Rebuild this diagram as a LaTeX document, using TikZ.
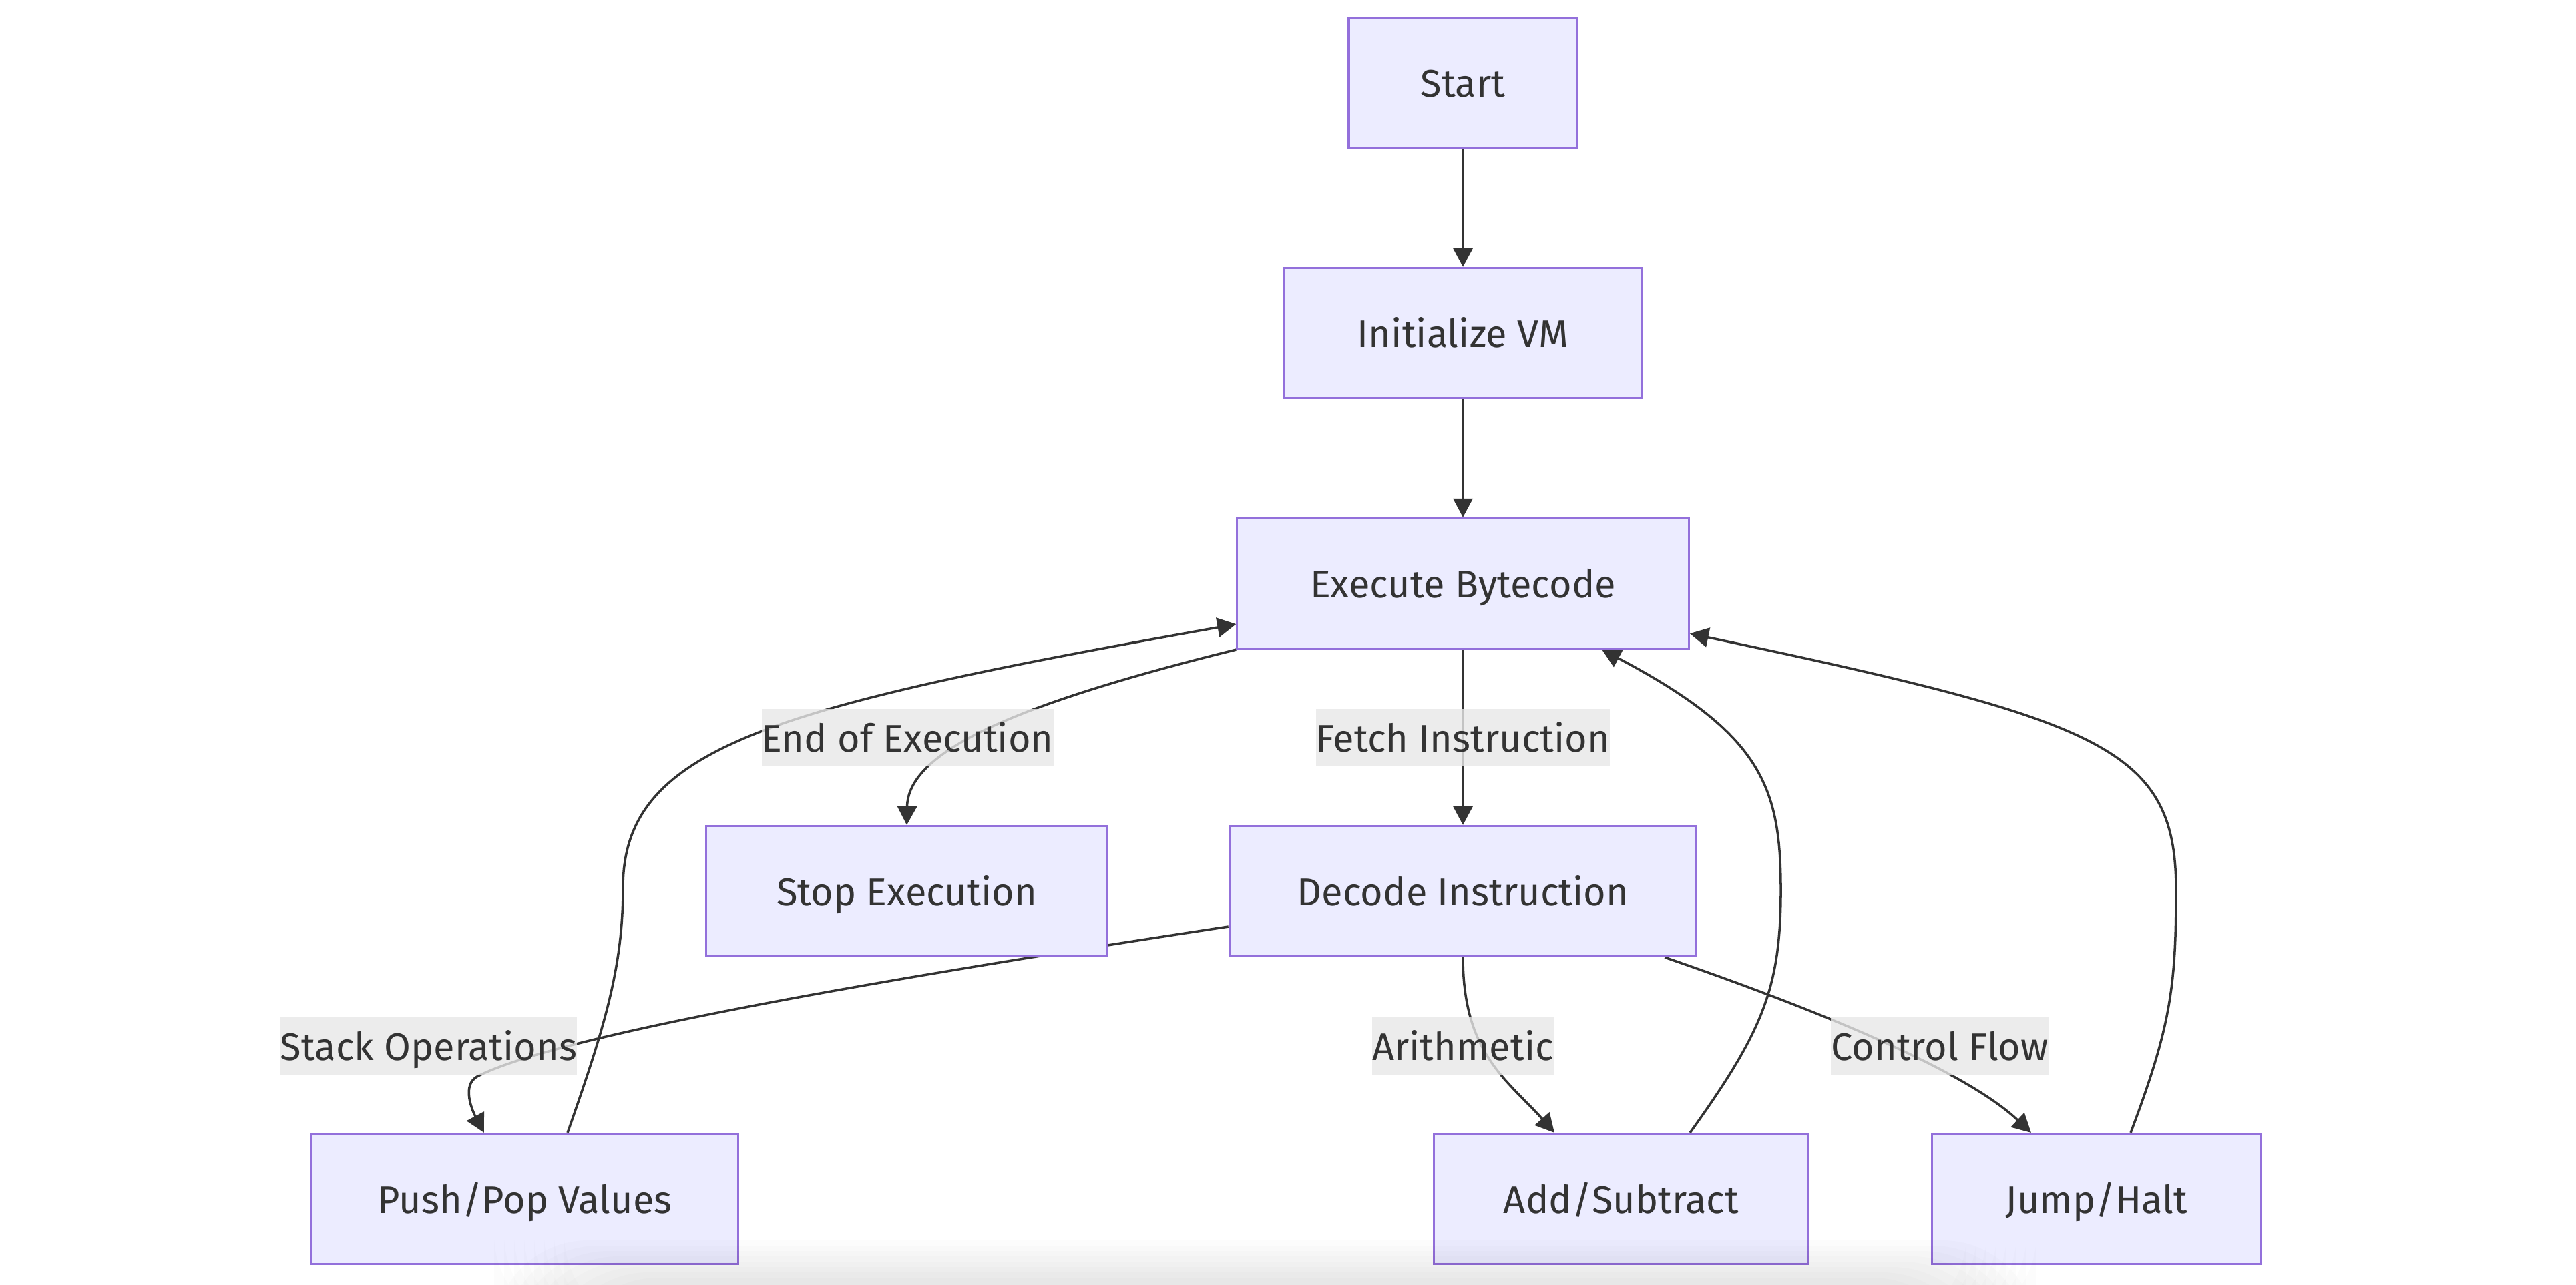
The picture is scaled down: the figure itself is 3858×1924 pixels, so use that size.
\documentclass[tikz,border=0pt]{standalone}
\usepackage{fontspec}
\setmainfont{Fira Sans}
\usetikzlibrary{arrows.meta}
\definecolor{boxfill}{HTML}{ECECFF}
\definecolor{boxline}{HTML}{9370DB}
\definecolor{ink}{HTML}{333333}
\definecolor{lblfill}{HTML}{E8E8E8}
\pgfdeclarelayer{bg}
\pgfdeclarelayer{edges}
\pgfsetlayers{bg,edges,main}
\begin{document}
\begin{tikzpicture}[x=0.01cm,y=-0.01cm,>={Triangle[length=0.28cm,width=0.29cm]},
        box/.style={draw=boxline,fill=boxfill,line width=0.9pt,minimum height=1.95cm,text=ink,text height=1.2em,text depth=0pt,font=\fontsize{16.4}{20}\selectfont},
        lbl/.style={fill=lblfill,fill opacity=0.8,text opacity=1,text=ink,inner xsep=0pt,minimum height=0.86cm,text height=1.2em,text depth=0pt,font=\fontsize{16.4}{20}\selectfont},
        edge/.style={draw=ink,line width=1pt,->}]
        \begin{pgfonlayer}{bg}
            \fill[white] (0,0) rectangle (3858,1924);
        \end{pgfonlayer}
        \useasboundingbox (0,0) rectangle (3858,1924);
        \node[box,minimum width=3.42cm] (start) at (2191,124) {Start};
        \node[box,minimum width=5.34cm] (init) at (2191,499) {Initialize VM};
        \node[box,minimum width=6.76cm] (exec) at (2191,874) {Execute Bytecode};
        \node[box,minimum width=6.00cm] (stop) at (1358,1335) {Stop Execution};
        \node[box,minimum width=6.99cm] (decode) at (2191,1335) {Decode Instruction};
        \node[box,minimum width=6.38cm] (push) at (786,1796) {Push/Pop Values};
        \node[box,minimum width=5.61cm] (add) at (2428,1796) {Add/Subtract};
        \node[box,minimum width=4.92cm] (jump) at (3140,1796) {Jump/Halt};
        \begin{pgfonlayer}{edges}
            \draw[edge] (start.south) -- (init.north);
            \draw[edge] (init.south) -- (exec.north);
            \draw[edge] (exec.south) -- (decode.north);
            \draw[edge] (exec.south west) .. controls (1500,1060) and (1360,1130) .. (stop.north);
            \draw[edge] (decode.south) .. controls (2191,1580) and (2260,1620) .. ([xshift=-1cm]add.north);
            \draw[edge] ([xshift=3.02cm]decode.south) .. controls (2800,1540) and (2960,1620) .. ([xshift=-0.98cm]jump.north);
            \draw[edge] ([yshift=-0.53cm]decode.west) .. controls (1400,1455) and (850,1545) .. (716,1612) .. controls (690,1625) and (708,1665) .. ([xshift=-0.61cm]push.north);
            \draw[edge] ([xshift=0.64cm]push.north) .. controls (905,1540) and (933,1450) .. (933,1330) .. controls (933,1120) and (1150,1060) .. ([yshift=-0.61cm]exec.west);
            \draw[edge] ([xshift=1.03cm]add.north) .. controls (2640,1545) and (2667,1480) .. (2667,1334) .. controls (2667,1180) and (2640,1100) .. ([xshift=2.08cm]exec.south);
            \draw[edge] ([xshift=0.51cm]jump.north) .. controls (3250,1540) and (3259,1480) .. (3259,1334) .. controls (3259,1120) and (3150,1080) .. ([yshift=-0.75cm]exec.east);
        \end{pgfonlayer}
        \node[lbl] (endlbl) at (1359,1105) {End of Execution};
        \node[lbl] (fetchlbl) at (2191,1105) {Fetch Instruction};
        \node[lbl] (stacklbl) at (642,1567) {Stack Operations};
        \node[lbl] (arithlbl) at (2191,1567) {Arithmetic};
        \node[lbl] (flowlbl) at (2905,1567) {Control Flow};
        \foreach \i in {0,...,7}
            \fill[black,opacity=0.012,rounded corners=40] (740+\i*15,1858+\i*8) rectangle (3050-\i*15,1990);
    \end{tikzpicture}
\end{document}
